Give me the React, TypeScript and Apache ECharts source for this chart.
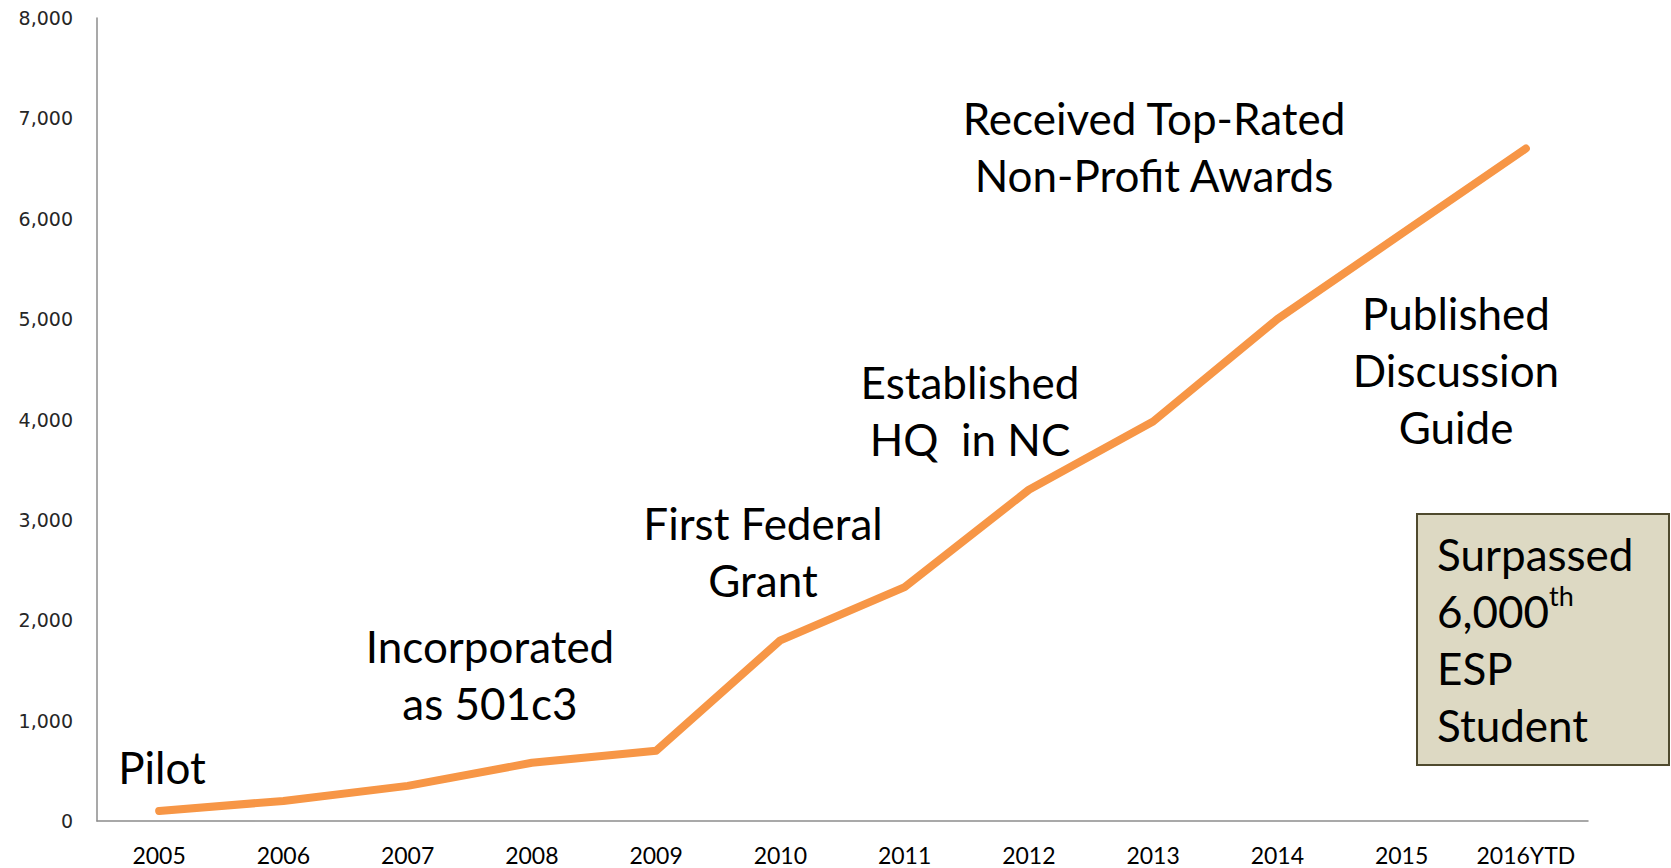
import React, { useEffect, useRef } from "react";
import * as echarts from "echarts";

const years = ["2005", "2006", "2007", "2008", "2009", "2010", "2011", "2012", "2013", "2014", "2015", "2016YTD"];
const students = [100, 200, 350, 580, 700, 1800, 2330, 3300, 3980, 5000, 5850, 6700];
const yMin = 0;
const yMax = 8000;
const yStep = 1000;

const annotations = [
  { text: "Pilot", x: 162, y: 767 },
  { text: "Incorporated\nas 501c3", x: 490, y: 674 },
  { text: "First Federal\nGrant", x: 763, y: 551 },
  { text: "Established\nHQ  in NC", x: 970, y: 410 },
  { text: "Received Top-Rated\nNon-Profit Awards", x: 1154, y: 146 },
  { text: "Published\nDiscussion\nGuide", x: 1456, y: 370 },
];

const FONT = "Lato, 'Open Sans', sans-serif";

export default function App() {
  const ref = useRef<HTMLDivElement>(null);
  useEffect(() => {
    if (!ref.current) return;
    const chart = echarts.init(ref.current, null, { renderer: "svg" });
    const graphics: any[] = annotations.map((a) => ({
      type: "text",
      x: a.x,
      y: a.y,
      z: 10,
      style: {
        text: a.text,
        fontSize: 44,
        fontFamily: FONT,
        fill: "#000",
        align: "center",
        verticalAlign: "middle",
        lineHeight: 57,
      },
    }));
    graphics.push({
      type: "rect",
      z: 10,
      shape: { x: 1417, y: 514, width: 252, height: 251 },
      style: { fill: "#DDD9C3", stroke: "#4F4A2E", lineWidth: 2 },
    });
    graphics.push({
      type: "text",
      x: 1437,
      y: 525,
      z: 11,
      style: {
        text: "{n|Surpassed}\n{n|6,000}{s|th}\n{n|ESP}\n{n|Student}",
        align: "left",
        verticalAlign: "top",
        fill: "#000",
        rich: {
          n: { fontSize: 44, fontFamily: FONT, lineHeight: 57, fill: "#000" },
          s: { fontSize: 27, fontFamily: FONT, lineHeight: 34, verticalAlign: "top", fill: "#000" },
        },
      },
    });
    chart.setOption({
      animation: false,
      backgroundColor: "#ffffff",
      grid: { left: 97, right: 83, top: 18, bottom: 47, containLabel: false },
      xAxis: {
        type: "category",
        data: years,
        boundaryGap: true,
        axisLine: { show: true, lineStyle: { color: "#8C8C8C", width: 1.5 } },
        axisTick: { show: false },
        axisLabel: { color: "#000", fontSize: 23, fontFamily: FONT, margin: 22, interval: 0 },
        splitLine: { show: false },
      },
      yAxis: {
        type: "value",
        min: yMin,
        max: yMax,
        interval: yStep,
        axisLine: { show: true, lineStyle: { color: "#8C8C8C", width: 1.5 } },
        axisTick: { show: false },
        splitLine: { show: false },
        axisLabel: {
          color: "#262626",
          fontSize: 19,
          fontFamily: "'DejaVu Sans', Verdana, sans-serif",
          margin: 24,
          formatter: (v: number) => v.toLocaleString("en-US"),
        },
      },
      series: [
        {
          type: "line",
          data: students,
          symbol: "none",
          lineStyle: { color: "#F79646", width: 8, cap: "round", join: "round" },
          itemStyle: { color: "#F79646" },
        },
      ],
      graphic: graphics,
    });
    return () => chart.dispose();
  }, []);
  return (
    <div
      ref={ref}
      style={{ position: "fixed", left: 0, top: 0, width: 1671, height: 868, background: "#fff" }}
    />
  );
}
